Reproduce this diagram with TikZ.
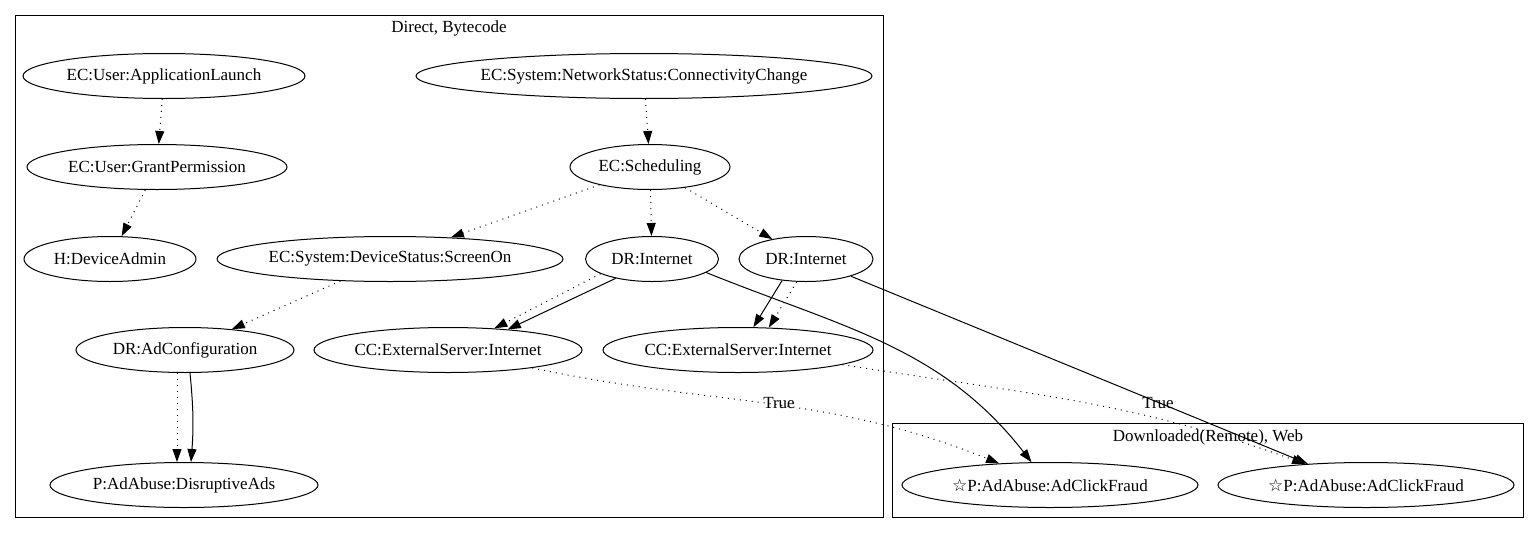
\documentclass[tikz,border=0pt]{standalone}
\usepackage{fontspec}
\setmainfont{Liberation Serif}
\newfontfamily\starfont{DejaVu Sans}
\usetikzlibrary{arrows.meta,shapes.geometric}
\begin{document}
\begin{tikzpicture}[x=1pt, y=-1pt, line width=1pt, >={Triangle[length=13pt,width=9pt]}, font=\fontsize{17pt}{20pt}\selectfont,
	nd/.style={draw, ellipse, inner xsep=-6pt, inner ysep=0pt, minimum height=45pt, minimum width=#1},
	dotarr/.style={->, dash pattern=on 1pt off 5pt},
	solarr/.style={->}]
	\def\star{{\starfont\fontsize{17pt}{17pt}\selectfont ☆}}
	\useasboundingbox (0,0) rectangle (1539,533);
	\draw (15,15) rectangle (883,517);
	\node (lbd) at (449,28) {Direct, Bytecode};
	\draw (892,423) rectangle (1523,517);
	\node (lbw) at (1208,437) {Downloaded(Remote), Web};
	\node[nd=282] (al) at (164,76) {EC:User:ApplicationLaunch};
	\node[nd=260] (gp) at (157,167) {EC:User:GrantPermission};
	\node[nd=172] (da) at (110,259) {H:DeviceAdmin};
	\node[nd=456] (cc) at (644,76) {EC:System:NetworkStatus:ConnectivityChange};
	\node[nd=160] (sc) at (650,167) {EC:Scheduling};
	\node[nd=346] (so) at (390,259) {EC:System:DeviceStatus:ScreenOn};
	\node[nd=133] (di1) at (652,259) {DR:Internet};
	\node[nd=134] (di2) at (806,259) {DR:Internet};
	\node[nd=218] (ac) at (185,350) {DR:AdConfiguration};
	\node[nd=268] (es1) at (448,350) {CC:ExternalServer:Internet};
	\node[nd=270] (es2) at (738,350) {CC:ExternalServer:Internet};
	\node[nd=268] (ads) at (184,485) {P:AdAbuse:DisruptiveAds};
	\node[nd=296] (cf1) at (1050,485) {\star P:AdAbuse:AdClickFraud};
	\node[nd=296] (cf2) at (1366,485) {\star P:AdAbuse:AdClickFraud};
	\node (t1) at (779,403) {True};
	\node (t2) at (1158,403) {True};
	\draw[dotarr] (al) -- (gp);
	\draw[dotarr] (gp) -- (da);
	\draw[dotarr] (cc) -- (sc);
	\draw[dotarr] (sc) -- (so);
	\draw[dotarr] (sc) -- (di1);
	\draw[dotarr] (sc) -- (di2);
	\draw[dotarr] (so) -- (ac);
	\draw[dotarr] ([xshift=-8pt]ac.south) -- ([xshift=-7pt]ads.north);
	\draw[solarr] ([xshift=5pt]ac.south) to[bend left=5] ([xshift=7pt]ads.north);
	\draw[dotarr] (di1.196) -- (es1.25);
	\draw[solarr] (di1.208) -- (es1.19);
	\draw[solarr] (di2.222) -- (es2.56);
	\draw[dotarr] (di2.248) -- (es2.36);
	\draw[solarr] (di1.-14) to[out=-22,in=128] (cf1.129);
	\draw[solarr] (di2.-21) -- (cf2.160);
	\draw[dotarr] (es1.-12) to[out=-12,in=158] (cf1.157);
	\draw[dotarr] (es2.-8) to[out=-9,in=160] (cf2.161);
\end{tikzpicture}
\end{document}
